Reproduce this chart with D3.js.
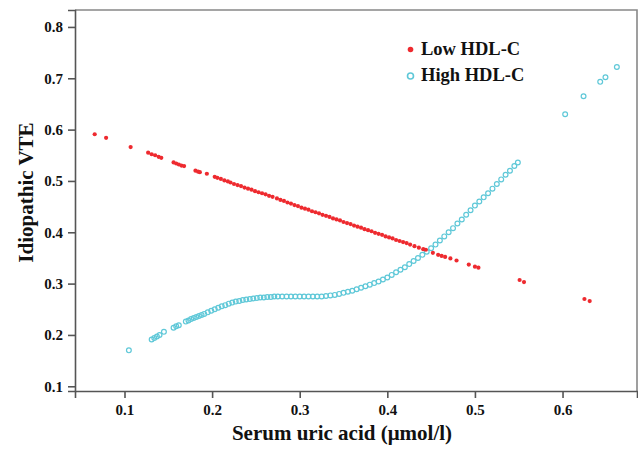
<html>
<head>
<script src="https://d3js.org/d3.v7.min.js"></script>
<style>
  body { margin: 0; background: #fff; }
  .axis path, .axis line { stroke: #555; stroke-width: 1.6; }
</style>
</head>
<body>
<svg id="chart" width="638" height="449"></svg>
<script>
// Low HDL-C (red, filled)
const lowX = [0.066,0.079,0.107,0.127,0.131,0.135,0.139,0.142,0.156,0.159,0.162,0.165,0.168,0.181,0.184,0.186,0.194,0.203,0.206,0.210,0.214,0.218,0.221,0.225,0.229,0.233,0.237,0.241,0.245,0.249,0.253,0.257,0.261,0.265,0.269,0.274,0.278,0.282,0.286,0.290,0.294,0.298,0.302,0.306,0.310,0.314,0.318,0.322,0.326,0.330,0.334,0.338,0.342,0.346,0.350,0.354,0.358,0.362,0.366,0.370,0.374,0.378,0.382,0.386,0.390,0.394,0.398,0.402,0.406,0.410,0.414,0.418,0.422,0.426,0.431,0.436,0.441,0.444,0.452,0.458,0.462,0.466,0.472,0.479,0.493,0.500,0.504,0.551,0.556,0.625,0.631];
const lowY = [0.591,0.584,0.566,0.555,0.552,0.550,0.547,0.545,0.536,0.534,0.532,0.530,0.529,0.520,0.518,0.517,0.514,0.508,0.506,0.504,0.501,0.499,0.497,0.494,0.492,0.490,0.487,0.485,0.483,0.480,0.478,0.476,0.474,0.471,0.469,0.466,0.463,0.461,0.458,0.456,0.453,0.451,0.448,0.446,0.444,0.441,0.439,0.437,0.434,0.432,0.430,0.427,0.425,0.423,0.420,0.418,0.416,0.413,0.411,0.409,0.406,0.404,0.402,0.399,0.397,0.395,0.392,0.390,0.388,0.385,0.383,0.381,0.379,0.376,0.373,0.370,0.367,0.366,0.360,0.356,0.354,0.352,0.349,0.345,0.337,0.333,0.331,0.307,0.303,0.270,0.266];

// High HDL-C (cyan, hollow)
const highX = [0.105,0.131,0.134,0.137,0.140,0.145,0.156,0.159,0.162,0.170,0.173,0.176,0.179,0.182,0.185,0.188,0.191,0.195,0.199,0.203,0.207,0.211,0.215,0.219,0.223,0.227,0.231,0.235,0.239,0.243,0.247,0.251,0.255,0.259,0.263,0.267,0.271,0.275,0.280,0.285,0.290,0.295,0.300,0.305,0.310,0.315,0.320,0.325,0.330,0.335,0.340,0.345,0.350,0.355,0.360,0.365,0.370,0.375,0.380,0.385,0.390,0.395,0.400,0.405,0.410,0.415,0.420,0.425,0.430,0.435,0.440,0.445,0.450,0.455,0.460,0.465,0.470,0.475,0.480,0.485,0.490,0.495,0.500,0.505,0.510,0.515,0.520,0.525,0.530,0.535,0.540,0.545,0.549,0.603,0.624,0.643,0.649,0.662];
const highY = [0.170,0.191,0.194,0.197,0.200,0.206,0.214,0.217,0.219,0.226,0.228,0.231,0.233,0.235,0.237,0.239,0.241,0.244,0.247,0.250,0.253,0.256,0.258,0.261,0.263,0.265,0.266,0.268,0.269,0.270,0.271,0.272,0.273,0.273,0.274,0.274,0.275,0.275,0.275,0.275,0.275,0.275,0.275,0.275,0.275,0.275,0.275,0.275,0.276,0.277,0.278,0.280,0.282,0.284,0.286,0.289,0.292,0.295,0.298,0.301,0.304,0.308,0.312,0.317,0.322,0.327,0.332,0.338,0.344,0.350,0.356,0.362,0.369,0.376,0.384,0.392,0.400,0.408,0.417,0.425,0.434,0.443,0.452,0.460,0.468,0.476,0.485,0.494,0.503,0.512,0.520,0.529,0.536,0.630,0.665,0.693,0.702,0.722];

const xTicks = [0.1,0.2,0.3,0.4,0.5,0.6];
const yTicks = [0.1,0.2,0.3,0.4,0.5,0.6,0.7,0.8];
const seriesNames = ["Low HDL-C","High HDL-C"];

const svg = d3.select("#chart")
  .attr("font-family", "Liberation Serif")
  .attr("font-weight", "bold");
const mLeft = 75, mRight = 637, mTop = 10, mBottom = 391;

const x = d3.scaleLinear().domain([0.0435, 0.685]).range([mLeft, mRight]);
const y = d3.scaleLinear().domain([0.0908, 0.833]).range([mBottom, mTop]);

// frame (top and right)
svg.append("path")
  .attr("d", `M${mLeft},${mTop}H${mRight}V${mBottom}`)
  .attr("fill", "none").attr("stroke", "#888").attr("stroke-width", 1.6);

svg.append("g").attr("class", "axis")
  .attr("transform", `translate(0,${mBottom})`)
  .call(d3.axisBottom(x).tickValues(xTicks).tickFormat(d3.format(".1f")).tickSizeOuter(0).tickSize(7).tickPadding(6));
svg.append("g").attr("class", "axis")
  .attr("transform", `translate(${mLeft},0)`)
  .call(d3.axisLeft(y).tickValues(yTicks).tickFormat(d3.format(".1f")).tickSizeOuter(0).tickSize(7).tickPadding(5));
svg.selectAll(".axis").attr("font-family", "Liberation Serif").attr("font-size", 15);
svg.selectAll(".axis text").attr("fill", "#111");

const low = lowX.map((d, i) => ({x: d, y: lowY[i]}));
const high = highX.map((d, i) => ({x: d, y: highY[i]}));

svg.append("g").selectAll("circle").data(high).join("circle")
  .attr("cx", d => x(d.x)).attr("cy", d => y(d.y)).attr("r", 2.4)
  .attr("fill", "none").attr("stroke", "#5fc8d8").attr("stroke-width", 1.2);

svg.append("g").selectAll("circle").data(low).join("circle")
  .attr("cx", d => x(d.x)).attr("cy", d => y(d.y)).attr("r", 2.1)
  .attr("fill", "#ee2a2f");

// legend
const lg = svg.append("g").attr("fill", "#111");
lg.append("circle").attr("cx", 410.5).attr("cy", 49.5).attr("r", 2.8).attr("fill", "#ee2a2f");
lg.append("circle").attr("cx", 410.5).attr("cy", 76).attr("r", 3).attr("fill", "none").attr("stroke", "#5fc8d8").attr("stroke-width", 1.6);
lg.append("text").attr("x", 421).attr("y", 54.5).attr("font-size", 18.5).text(seriesNames[0]);
lg.append("text").attr("x", 421).attr("y", 81).attr("font-size", 18.5).text(seriesNames[1]);

// axis titles
svg.append("text").attr("x", 342).attr("y", 440).attr("text-anchor", "middle")
  .attr("font-size", 21).attr("fill", "#111").text("Serum uric acid (μmol/l)");
svg.append("text").attr("transform", "translate(33,192.5) rotate(-90)").attr("text-anchor", "middle")
  .attr("font-size", 21).attr("fill", "#111").text("Idiopathic VTE");
</script>
</body>
</html>
